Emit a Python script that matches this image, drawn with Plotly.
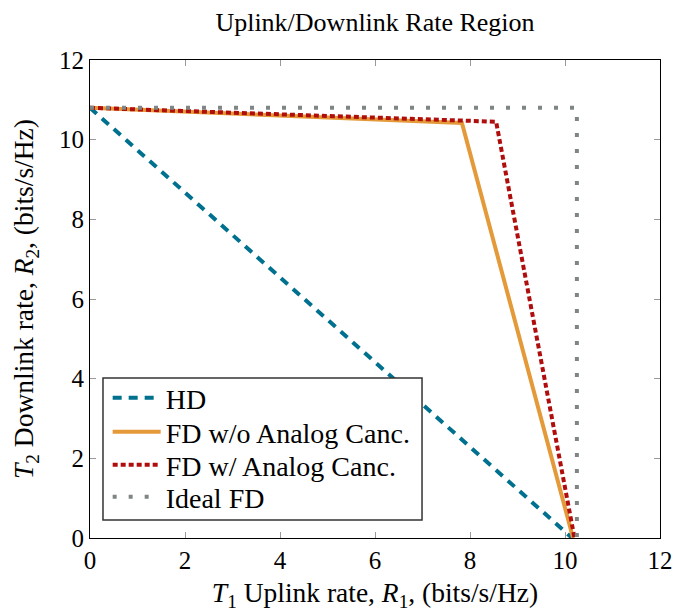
import plotly.graph_objects as go

# data
hd_x = [0, 10.15]
hd_y = [10.8, 0]
fd_noac_x = [0, 7.83, 10.17]
fd_noac_y = [10.8, 10.42, 0]
fd_ac_x = [0, 8.55, 10.2]
fd_ac_y = [10.8, 10.45, 0]
ideal_x = [0, 10.25, 10.25]
ideal_y = [10.8, 10.8, 0]
tick_vals = [0, 2, 4, 6, 8, 10, 12]
names = ["HD", "FD w/o Analog Canc.", "FD w/ Analog Canc.", "Ideal FD"]

FONT = "Liberation Serif"

fig = go.Figure()
fig.add_trace(go.Scatter(x=hd_x, y=hd_y, mode="lines", name=names[0], legend="legend",
                         line=dict(color="#00708f", width=4, dash="9px,7px")))
fig.add_trace(go.Scatter(x=fd_noac_x, y=fd_noac_y, mode="lines", name=names[1], legend="legend2",
                         line=dict(color="#e59a3a", width=4)))
fig.add_trace(go.Scatter(x=fd_ac_x, y=fd_ac_y, mode="lines", name=names[2], legend="legend3",
                         line=dict(color="#b00d0d", width=4, dash="5px,3px")))
fig.add_trace(go.Scatter(x=ideal_x, y=ideal_y, mode="lines", name=names[3], legend="legend4",
                         line=dict(color="#808585", width=4, dash="4px,12px")))

axis_common = dict(
    range=[0, 12], tickvals=tick_vals, ticks="inside", ticklen=6, tickcolor="#999",
    showline=True, linecolor="black", linewidth=1.2, mirror="allticks",
    showgrid=False, zeroline=False, automargin=False,
    tickfont=dict(family=FONT, size=25, color="black"),
)

def leg(yc):
    return dict(x=0.031, y=yc, xanchor="left", yanchor="middle",
                bgcolor="rgba(0,0,0,0)", borderwidth=0,
                font=dict(family=FONT, size=28, color="black"),
                itemwidth=48, tracegroupgap=0)

fig.update_layout(
    width=672, height=604,
    margin=dict(l=82, r=20, t=52, b=74),
    paper_bgcolor="white", plot_bgcolor="white",
    title=dict(text="Uplink/Downlink Rate Region", xref="paper", x=0.5, xanchor="center",
               y=0.977, yanchor="middle", font=dict(family=FONT, size=26, color="black")),
    xaxis=dict(axis_common, title=dict(
        text="<i>T</i><sub>1</sub> Uplink rate, <i>R</i><sub>1</sub>, (bits/s/Hz)",
        font=dict(family=FONT, size=27.5, color="black"), standoff=19)),
    yaxis=dict(axis_common, title=dict(
        text="<i>T</i><sub>2</sub> Downlink rate, <i>R</i><sub>2</sub>, (bits/s/Hz)",
        font=dict(family=FONT, size=27.5, color="black"), standoff=18)),
    legend=leg(0.2929),
    legend2=leg(0.2218),
    legend3=leg(0.1527),
    legend4=leg(0.0858),
    shapes=[dict(type="rect", xref="paper", yref="paper",
                 x0=0.0228, x1=0.5825, y0=0.0377, y1=0.3347,
                 fillcolor="white", line=dict(color="#333", width=1.5), layer="above")],
    showlegend=True,
)

fig.write_html("out.html")
